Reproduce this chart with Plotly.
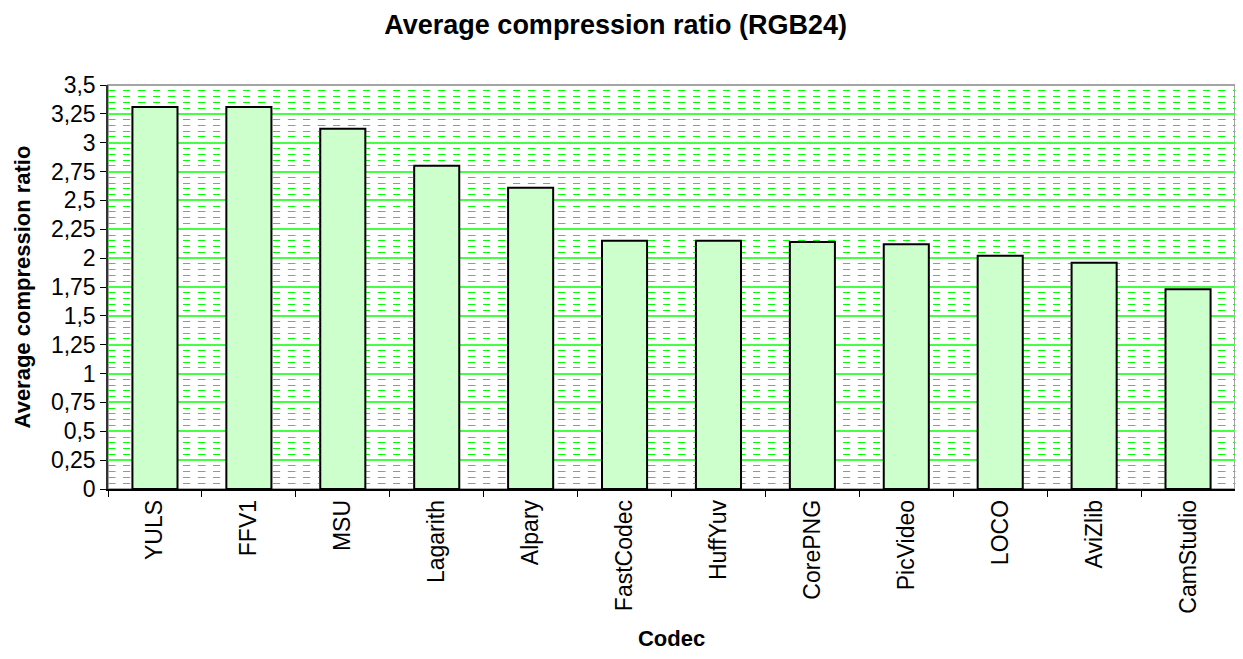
import plotly.graph_objects as go

codecs = ["YULS", "FFV1", "MSU", "Lagarith", "Alpary", "FastCodec",
          "HuffYuv", "CorePNG", "PicVideo", "LOCO", "AviZlib", "CamStudio"]
ratios = [3.31, 3.31, 3.12, 2.80, 2.61, 2.15, 2.15, 2.14, 2.12, 2.02, 1.96, 1.73]

ytick_vals = [i * 0.25 for i in range(15)]

fig = go.Figure(go.Bar(
    x=codecs, y=ratios,
    marker=dict(color="#CCFFCC", line=dict(color="#000000", width=2)),
))

# page body has an 8px margin, so the figure is sized to fit inside it
fig.update_layout(
    width=1235, height=643,
    margin=dict(l=100, r=8, t=77, b=162),
    paper_bgcolor="white", plot_bgcolor="white",
    font=dict(family="Liberation Sans, Arial, sans-serif", color="black"),
    separators=", ",
    bargap=0.52,
    showlegend=False,
    title=dict(text="<b>Average compression ratio (RGB24)</b>",
               x=0.492, xanchor="center", xref="container",
               y=0.975, yref="container", yanchor="middle",
               font=dict(size=27)),
)

fig.update_xaxes(
    title=dict(text="<b>Codec</b>", font=dict(size=22), standoff=22),
    automargin=False,
    tickangle=-90, tickfont=dict(size=23),
    ticks="outside", tickson="boundaries", ticklen=6, tickcolor="black",
    showline=True, linecolor="black", linewidth=1.5,
    showgrid=False,
)

fig.update_yaxes(
    title=dict(text="<b>Average compression ratio</b>", font=dict(size=22), standoff=14),
    range=[0, 3.5], tickvals=ytick_vals, tickfont=dict(size=23),
    ticks="outside", ticklen=6, tickcolor="black",
    showline=True, linecolor="#333333", linewidth=1.5,
    showgrid=True, gridcolor="#44FF44", gridwidth=1.5,
    zeroline=False,
    minor=dict(dtick=0.05, showgrid=True, gridcolor="#00FF00",
               griddash="7px,8px", gridwidth=1),
)

# grey frame on top and right like the original plot area
fig.add_shape(type="rect", xref="paper", yref="paper", x0=0, x1=1, y0=0, y1=1,
              line=dict(color="#888888", width=1.5), layer="below")

fig.write_html("out.html")
